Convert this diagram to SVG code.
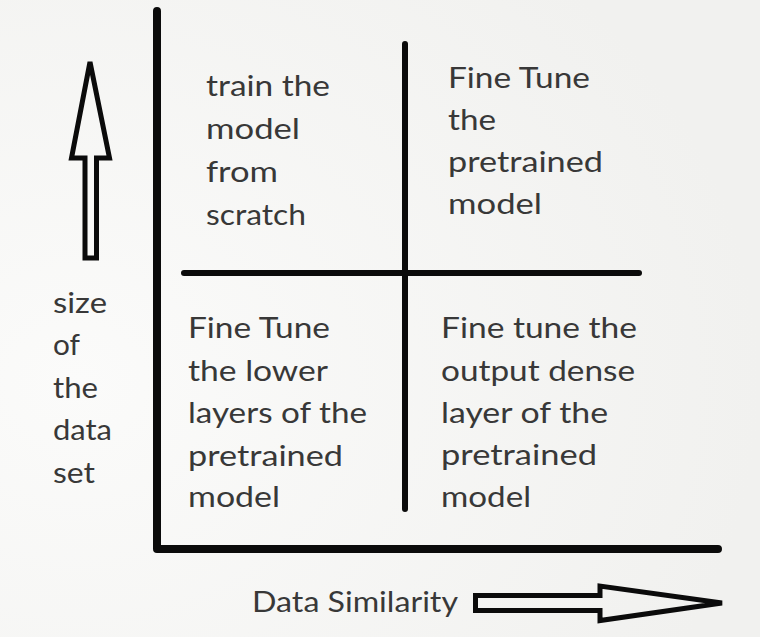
<svg xmlns="http://www.w3.org/2000/svg" width="760" height="637" viewBox="0 0 760 637">
<style>
.t{font-family:Lato,"Open Sans","Noto Sans",sans-serif;font-size:28px;fill:#383838;}
.ln{stroke:#0b0b0b;fill:none;stroke-linecap:round;stroke-linejoin:round;}
.ar{stroke:#0b0b0b;fill:none;stroke-width:5;stroke-linejoin:miter;}
</style>
<defs>
<radialGradient id="bg" cx="0.1" cy="0.6" r="0.9">
<stop offset="0" stop-color="#fbfbfa"/>
<stop offset="1" stop-color="#f1f1ef"/>
</radialGradient>
</defs>
<rect width="760" height="637" fill="url(#bg)"/>
<g id="connectors">
<polyline class="ln" stroke-width="8" points="157,11 157,549 718,549"/>
<line class="ln" stroke-width="6" x1="405" y1="44" x2="405" y2="509"/>
<line class="ln" stroke-width="6" x1="184" y1="273" x2="639" y2="273"/>
<polygon class="ar" points="90,62 109.5,158 96.5,158 96.5,258 85,258 85,158 71.5,158"/>
<polygon class="ar" points="475.5,595.5 600,595.5 600,586 722,603 600,620.5 600,610.5 475.5,610.5"/>
</g>
<g id="q-top-left">
<text class="t" x="206" y="96" textLength="124" lengthAdjust="spacingAndGlyphs">train the</text>
<text class="t" x="206" y="139" textLength="94" lengthAdjust="spacingAndGlyphs">model</text>
<text class="t" x="206" y="182" textLength="72" lengthAdjust="spacingAndGlyphs">from</text>
<text class="t" x="206" y="225" textLength="100" lengthAdjust="spacingAndGlyphs">scratch</text>
</g>
<g id="q-top-right">
<text class="t" x="448" y="88" textLength="142" lengthAdjust="spacingAndGlyphs">Fine Tune</text>
<text class="t" x="448" y="130" textLength="48" lengthAdjust="spacingAndGlyphs">the</text>
<text class="t" x="448" y="172" textLength="155" lengthAdjust="spacingAndGlyphs">pretrained</text>
<text class="t" x="448" y="214" textLength="94" lengthAdjust="spacingAndGlyphs">model</text>
</g>
<g id="q-bottom-left">
<text class="t" x="188" y="338" textLength="142" lengthAdjust="spacingAndGlyphs">Fine Tune</text>
<text class="t" x="188" y="381" textLength="140" lengthAdjust="spacingAndGlyphs">the lower</text>
<text class="t" x="188" y="423" textLength="179" lengthAdjust="spacingAndGlyphs">layers of the</text>
<text class="t" x="188" y="466" textLength="155" lengthAdjust="spacingAndGlyphs">pretrained</text>
<text class="t" x="188" y="507" textLength="92" lengthAdjust="spacingAndGlyphs">model</text>
</g>
<g id="q-bottom-right">
<text class="t" x="441" y="338" textLength="196" lengthAdjust="spacingAndGlyphs">Fine tune the</text>
<text class="t" x="441" y="381" textLength="194" lengthAdjust="spacingAndGlyphs">output dense</text>
<text class="t" x="441" y="423" textLength="167" lengthAdjust="spacingAndGlyphs">layer of the</text>
<text class="t" x="441" y="465" textLength="156" lengthAdjust="spacingAndGlyphs">pretrained</text>
<text class="t" x="441" y="507" textLength="90" lengthAdjust="spacingAndGlyphs">model</text>
</g>
<g id="y-label">
<text class="t" x="53" y="313" textLength="54" lengthAdjust="spacingAndGlyphs">size</text>
<text class="t" x="53" y="355" textLength="27" lengthAdjust="spacingAndGlyphs">of</text>
<text class="t" x="53" y="398" textLength="45" lengthAdjust="spacingAndGlyphs">the</text>
<text class="t" x="53" y="440" textLength="59" lengthAdjust="spacingAndGlyphs">data</text>
<text class="t" x="53" y="483" textLength="42" lengthAdjust="spacingAndGlyphs">set</text>
</g>
<g id="x-label">
<text class="t" x="252" y="612" textLength="206" lengthAdjust="spacingAndGlyphs">Data Similarity</text>
</g>
</svg>
